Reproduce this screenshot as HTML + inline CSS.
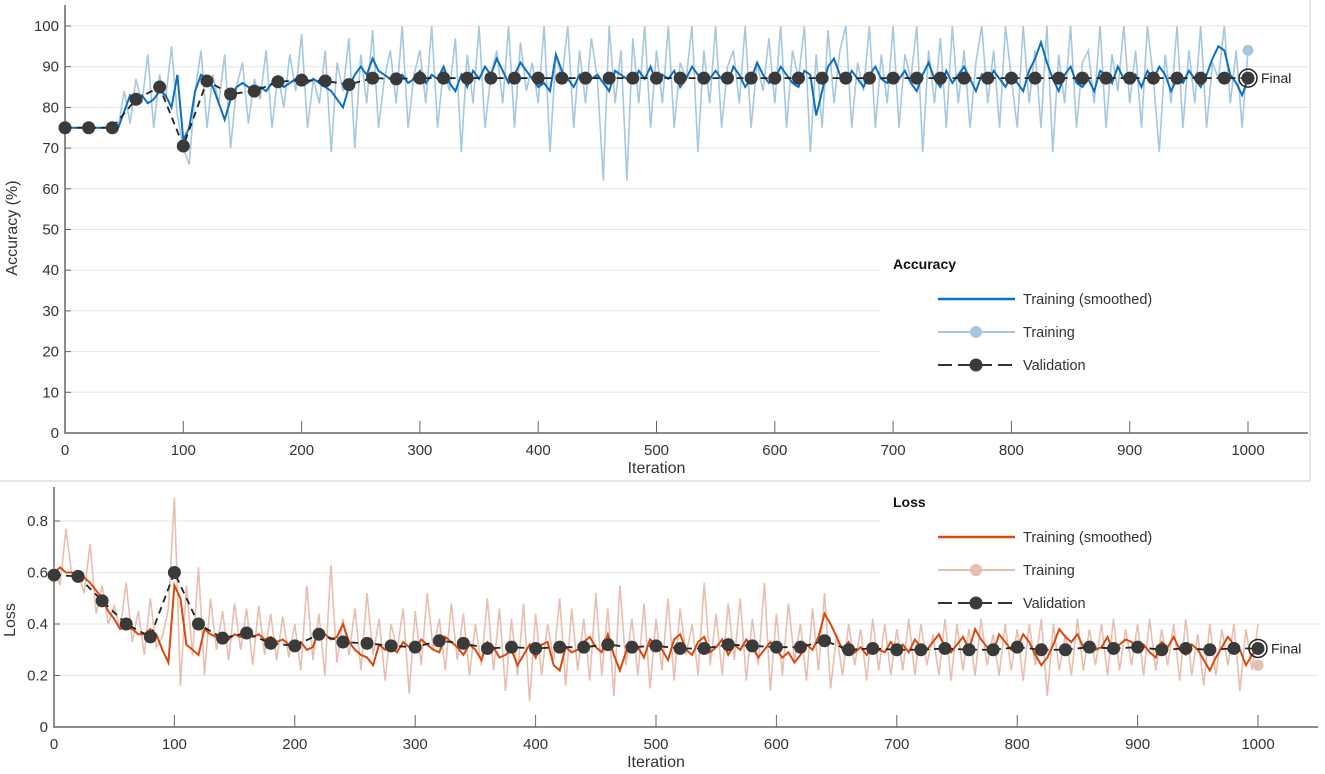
<!DOCTYPE html>
<html><head><meta charset="utf-8"><style>
html,body{margin:0;padding:0;background:#fff;}
svg{display:block;font-family:"Liberation Sans",Arial,sans-serif;}
</style></head><body>
<svg id="c" width="1325" height="774" viewBox="0 0 1325 774"></svg>
<script>
const accValIter=[0,20,40,60,80,100,120,140,160,180,200,220,240,260,280,300,320,340,360,380,400,420,440,460,480,500,520,540,560,580,600,620,640,660,680,700,720,740,760,780,800,820,840,860,880,900,920,940,960,980,1000];
const accVal=[75,75,75,82,85,70.5,86.5,83.3,84,86.3,86.7,86.5,85.6,87.2,87,87.2,87.2,87.2,87.2,87.2,87.2,87.2,87.2,87.2,87.2,87.2,87.2,87.2,87.2,87.2,87.2,87.2,87.2,87.2,87.2,87.2,87.2,87.2,87.2,87.2,87.2,87.2,87.2,87.2,87.2,87.2,87.2,87.2,87.2,87.2,87.2];
const lossVal=[.59,.585,.49,.40,.35,.60,.40,.345,.365,.325,.315,.36,.33,.325,.315,.31,.335,.325,.305,.31,.305,.31,.31,.32,.31,.315,.305,.305,.32,.315,.31,.31,.335,.30,.305,.30,.30,.305,.30,.30,.31,.30,.30,.31,.305,.31,.30,.305,.30,.305,.305];
const accRaw=[75,75,75,75,75,75,75,75,75,75,84,76,87,81,93,75,88,82,95,78,70,66,84,94,75,88,81,93,70,85,91,76,87,82,94,75,88,80,93,84,98,75,87,81,94,69,91,84,97,70,93,81,99,75,87,94,81,100,75,88,94,81,100,75,90,84,97,69,93,81,100,75,88,94,81,100,75,96,84,91,81,100,69,93,87,100,75,94,81,97,87,62,100,81,94,62,97,81,100,75,94,81,100,75,91,87,100,69,94,81,100,75,90,94,81,100,75,91,84,97,81,100,75,94,87,100,69,93,75,99,81,94,100,75,91,84,100,75,93,81,100,75,93,87,100,69,94,81,97,75,100,81,94,75,91,100,81,94,75,100,87,75,100,81,94,75,100,69,93,81,100,75,91,94,81,100,75,93,84,100,81,94,75,100,87,69,93,81,100,75,94,81,100,75,91,87,100,81,94,75,94];
const accSmooth=[75,75,75,75,75,75,75,75,75,75,79,83,82,83,81,82,84,83,80,88,72,75,84,88,87,85,81,77,82,85,86,85,84,85,84,86,86,85,86,87,88,86,87,86,85,84,82,80,85,88,90,88,92,89,88,87,86,88,86,87,89,86,88,87,90,86,84,88,85,89,87,90,88,92,89,86,88,91,89,87,85,86,84,93,89,87,85,88,86,87,88,86,84,89,88,87,86,89,87,90,86,88,87,89,85,87,90,88,86,87,89,87,86,90,88,85,87,91,88,86,87,90,88,86,85,89,88,78,84,90,92,88,86,89,87,85,88,90,87,86,88,87,89,86,84,88,91,87,85,89,86,88,90,87,84,88,86,89,87,85,88,86,84,89,92,96,91,87,84,88,90,86,85,87,84,89,88,86,90,87,86,88,85,89,87,90,88,84,87,86,89,87,85,88,92,95,94,88,86,83,87];
const lossRaw=[.62,.55,.77,.58,.60,.52,.71,.44,.55,.40,.47,.38,.56,.33,.45,.28,.50,.31,.35,.46,.89,.16,.55,.28,.62,.20,.50,.30,.45,.26,.48,.30,.46,.24,.47,.28,.44,.26,.43,.27,.40,.22,.55,.26,.44,.20,.63,.25,.42,.28,.46,.22,.52,.28,.42,.18,.40,.30,.46,.13,.45,.24,.52,.30,.42,.22,.48,.26,.44,.20,.40,.24,.50,.22,.46,.14,.42,.20,.48,.10,.44,.20,.40,.26,.50,.16,.46,.22,.42,.18,.52,.20,.46,.12,.55,.24,.42,.20,.48,.15,.42,.22,.50,.18,.46,.28,.40,.20,.56,.24,.44,.20,.48,.26,.50,.18,.42,.24,.56,.14,.44,.20,.48,.26,.40,.18,.46,.22,.52,.15,.36,.20,.40,.24,.38,.18,.42,.22,.40,.20,.38,.22,.42,.20,.40,.24,.36,.20,.42,.18,.40,.22,.38,.20,.42,.24,.36,.20,.40,.22,.38,.18,.40,.24,.42,.12,.40,.22,.36,.20,.42,.22,.38,.24,.40,.20,.42,.22,.38,.24,.40,.20,.42,.22,.38,.24,.40,.18,.42,.20,.36,.16,.40,.20,.38,.24,.40,.14,.38,.22,.40];
const lossSmooth=[.60,.62,.60,.60,.59,.58,.56,.53,.50,.45,.42,.38,.39,.38,.36,.36,.38,.36,.30,.25,.55,.50,.32,.30,.28,.38,.36,.35,.33,.34,.36,.35,.37,.35,.36,.34,.35,.33,.34,.32,.31,.33,.30,.31,.38,.36,.34,.35,.40,.33,.30,.28,.27,.24,.32,.30,.31,.29,.33,.31,.30,.34,.32,.30,.29,.35,.33,.31,.28,.32,.30,.26,.33,.31,.27,.28,.30,.24,.28,.32,.27,.32,.33,.24,.22,.31,.29,.30,.33,.35,.31,.29,.36,.28,.22,.29,.33,.31,.27,.34,.32,.30,.26,.34,.36,.30,.28,.33,.35,.29,.31,.34,.28,.32,.30,.34,.31,.27,.30,.33,.30,.27,.29,.25,.28,.32,.30,.35,.44,.40,.35,.30,.33,.29,.31,.28,.32,.30,.29,.33,.30,.32,.29,.34,.31,.30,.33,.36,.31,.29,.32,.35,.30,.38,.34,.31,.29,.36,.33,.30,.31,.36,.33,.28,.24,.27,.32,.38,.35,.33,.36,.31,.33,.30,.31,.35,.29,.32,.34,.33,.30,.32,.29,.27,.33,.31,.35,.30,.28,.32,.30,.26,.22,.27,.31,.35,.32,.30,.24,.28,.31];
const accTicksY=[0,10,20,30,40,50,60,70,80,90,100];
const lossTicksY=[0,0.2,0.4,0.6,0.8];
const lossTickLabels=["0","0.2","0.4","0.6","0.8"];
const xTicks=[0,100,200,300,400,500,600,700,800,900,1000];
const accFinalTrain=94, lossFinalTrain=0.24;

const svg=document.getElementById('c');
const NS='http://www.w3.org/2000/svg';
function mk(tag,attrs,parent,text){const e=document.createElementNS(NS,tag);for(const k in attrs)e.setAttribute(k,attrs[k]);if(text!==undefined)e.textContent=text;(parent||svg).appendChild(e);return e;}

function panel(cfg){
  const g=mk('g',{});
  
  
  const X=v=>cfg.x0+v*cfg.xs, Y=v=>cfg.y0-v*cfg.ys;
  // grid
  cfg.yt.forEach((t,i)=>{ if(t>0){const gl=mk('line',{x1:cfg.x0,x2:cfg.xr,y1:Y(t),y2:Y(t),stroke:'#e6e6e6','stroke-width':1},g);}
    const tl=mk('text',{x:cfg.x0-6,y:Y(t)+5,'text-anchor':'end','font-size':15,fill:'#333'},g,cfg.yl[i]);
    mk('line',{x1:cfg.x0,x2:cfg.x0+6,y1:Y(t),y2:Y(t),stroke:'#666'},g);});
  xTicks.forEach(t=>{mk('line',{x1:X(t),x2:X(t),y1:cfg.y0,y2:cfg.y0-12,stroke:'#666'},g);
    const tl=mk('text',{x:X(t),y:cfg.y0+22,'text-anchor':'middle','font-size':15,fill:'#333'},g,String(t));});
  // axes
  const ax=mk('path',{d:`M${cfg.x0} ${cfg.ytop} V${cfg.y0} H${cfg.xr}`,fill:'none',stroke:'#666','stroke-width':1.5},g);
  
  // raw
  const n=cfg.raw.length, step=1000/(n-1);
  let d='';cfg.raw.forEach((v,i)=>{d+=(i?'L':'M')+X(i*step).toFixed(1)+' '+Y(v).toFixed(1);});
  const r=mk('path',{d,fill:'none',stroke:cfg.cRaw,'stroke-width':1.6},g);
  
  d='';cfg.sm.forEach((v,i)=>{d+=(i?'L':'M')+X(i*step).toFixed(1)+' '+Y(v).toFixed(1);});
  const s=mk('path',{d,fill:'none',stroke:cfg.cSm,'stroke-width':2},g);
  
  d='';cfg.val.forEach((v,i)=>{d+=(i?'L':'M')+X(accValIter[i])+' '+Y(v);});
  const vl=mk('path',{d,fill:'none',stroke:'#222','stroke-width':1.8,'stroke-dasharray':'7,5'},g);
  
  cfg.val.forEach((v,i)=>{const c=mk('circle',{cx:X(accValIter[i]),cy:Y(v),r:6.5,fill:'#3a3a3a'},g);});
  const ft=mk('circle',{cx:X(1000),cy:Y(cfg.finalTrain),r:5.5,fill:cfg.cRaw},g);
  const fv=cfg.val[cfg.val.length-1];
  mk('circle',{cx:X(1000),cy:Y(fv),r:9,fill:'none',stroke:'#222','stroke-width':1.5},g);
  const fl=mk('text',{x:X(1000)+13,y:Y(fv)+5,'font-size':14,fill:'#222'},g,'Final');
  // legend
  const lg=mk('g',{},g);
  mk('rect',{x:880,y:cfg.lgTop,width:cfg.xr-880,height:cfg.lgH,fill:'#fff'},lg);
  mk('text',{x:893,y:cfg.lgTop+22,'font-size':14,'font-weight':'bold',fill:'#111'},lg,cfg.title);
  const ys=[cfg.lgTop+52,cfg.lgTop+85,cfg.lgTop+118];
  mk('line',{x1:938,x2:1015,y1:ys[0],y2:ys[0],stroke:cfg.cSm,'stroke-width':2.5},lg);
  mk('line',{x1:938,x2:1015,y1:ys[1],y2:ys[1],stroke:cfg.cRaw,'stroke-width':2},lg);
  mk('circle',{cx:976,cy:ys[1],r:6,fill:cfg.cRaw},lg);
  mk('line',{x1:938,x2:1015,y1:ys[2],y2:ys[2],stroke:'#333','stroke-width':2,'stroke-dasharray':'14,6'},lg);
  mk('circle',{cx:976,cy:ys[2],r:6.5,fill:'#3a3a3a'},lg);
  ['Training (smoothed)','Training','Validation'].forEach((t,i)=>{const e=mk('text',{x:1023,y:ys[i]+5,'font-size':14.5,fill:'#333'},lg,t);});
  const xt=mk('text',{x:(cfg.x0+X(1000))/2,y:cfg.y0+40,'text-anchor':'middle','font-size':16,fill:'#333'},g,'Iteration');
  
  const yt=mk('text',{x:cfg.ylx,y:cfg.yly,'text-anchor':'middle','font-size':16,fill:'#333',transform:`rotate(-90 ${cfg.ylx} ${cfg.yly})`},g,cfg.ytitle);
  
}
const frame=mk('path',{d:'M1310 0 V481 H0',fill:'none',stroke:'#ddd','stroke-width':1.5});


panel({name:'accuracy-panel',x0:65,xs:1.183,y0:433,ys:4.07,ytop:5,xr:1308,yt:accTicksY,yl:accTicksY.map(String),raw:accRaw,sm:accSmooth,val:accVal,cRaw:'#a6c8df',cSm:'#0d6fbe',finalTrain:accFinalTrain,title:'Accuracy',lgTop:247,lgH:135,ytitle:'Accuracy (%)',ylx:17,yly:228});
panel({name:'loss-panel',x0:54,xs:1.204,y0:727,ys:257.5,ytop:487,xr:1318,yt:lossTicksY,yl:lossTickLabels,raw:lossRaw,sm:lossSmooth,val:lossVal,cRaw:'#e7bfb0',cSm:'#d9480f',finalTrain:lossFinalTrain,title:'Loss',lgTop:485,lgH:130,ytitle:'Loss',ylx:15,yly:620});
</script>
</body></html>
